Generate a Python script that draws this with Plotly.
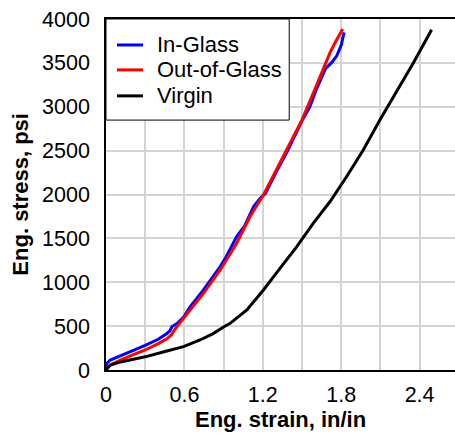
import plotly.graph_objects as go

# Engineering stress-strain curves (strain in in/in, stress in psi)
in_glass_strain = [0.0, 0.005, 0.033, 0.11, 0.21, 0.30, 0.40, 0.466, 0.49, 0.505, 0.543,
                   0.593, 0.645, 0.746, 0.874, 0.92, 1.0, 1.06, 1.13, 1.18, 1.22, 1.30,
                   1.384, 1.45, 1.50, 1.56, 1.613, 1.68, 1.728, 1.766, 1.80, 1.822]
in_glass_stress = [0, 76, 114, 160, 225, 280, 350, 415, 450, 495, 528,
                   600, 722, 912, 1178, 1290, 1520, 1640, 1863, 1958, 2010, 2250,
                   2480, 2680, 2840, 3000, 3210, 3435, 3505, 3580, 3700, 3847]

out_glass_strain = [0.0, 0.015, 0.033, 0.11, 0.21, 0.30, 0.40, 0.466, 0.50, 0.53, 0.593,
                    0.645, 0.746, 0.874, 1.0, 1.103, 1.205, 1.256, 1.307, 1.384, 1.50,
                    1.613, 1.715, 1.76, 1.812]
out_glass_stress = [0, 35, 57, 114, 175, 228, 300, 355, 400, 470, 590,
                    684, 874, 1140, 1445, 1749, 1996, 2142, 2288, 2509, 2851,
                    3250, 3620, 3750, 3886]

virgin_strain = [0.0, 0.034, 0.11, 0.30, 0.466, 0.593, 0.72, 0.82, 0.90, 0.95, 1.078,
                 1.205, 1.333, 1.46, 1.587, 1.715, 1.842, 1.97, 2.097, 2.225, 2.352, 2.492]
virgin_stress = [0, 57, 92, 150, 217, 266, 342, 415, 490, 532, 684,
                 912, 1160, 1406, 1673, 1920, 2205, 2509, 2851, 3174, 3498, 3878]

series = [
    ("In-Glass", in_glass_strain, in_glass_stress, "#0000ff"),
    ("Out-of-Glass", out_glass_strain, out_glass_stress, "#ff0000"),
    ("Virgin", virgin_strain, virgin_stress, "#000000"),
]

font_family = "Arial, Liberation Sans, sans-serif"
grid_color = "#d4d4d4"

fig = go.Figure()
for name, xs, ys, color in series:
    fig.add_trace(go.Scatter(x=xs, y=ys, name=name, mode="lines",
                             line=dict(color=color, width=3), showlegend=False))

# Boxed legend in the upper-left corner of the plotting area
legend_box = dict(x0=0, x1=0.525, y0=0.712, y1=1.0)
legend_rows = [0.926, 0.855, 0.781]
sample_x = (0.0315, 0.106)
label_x = 0.1404

fig.add_shape(type="rect", xref="paper", yref="paper", layer="above",
              line=dict(color="black", width=1), fillcolor="white", **legend_box)
for (name, _, _, color), row_y in zip(series, legend_rows):
    fig.add_shape(type="line", xref="paper", yref="paper", layer="above",
                  x0=sample_x[0], x1=sample_x[1], y0=row_y, y1=row_y,
                  line=dict(color=color, width=3))
    fig.add_annotation(xref="paper", yref="paper", x=label_x, y=row_y,
                       xanchor="left", yanchor="middle", showarrow=False,
                       text=name, font=dict(size=22, color="black"))

# Axis titles
fig.add_annotation(xref="paper", yref="paper", x=0.5, y=-0.142,
                   xanchor="center", yanchor="middle", showarrow=False,
                   text="<b>Eng. strain, in/in</b>", font=dict(size=22, color="black"))
fig.add_annotation(xref="paper", yref="paper", x=-0.246, y=0.5,
                   xanchor="center", yanchor="middle", showarrow=False, textangle=-90,
                   text="<b>Eng. stress, psi</b>", font=dict(size=22, color="black"))

fig.update_layout(
    width=455, height=438,
    margin=dict(l=106, r=0, t=19, b=68),
    paper_bgcolor="white", plot_bgcolor="white",
    font=dict(family=font_family, color="black", size=21.5),
    showlegend=False,
)

fig.update_xaxes(
    range=[0, 2.671], dtick=0.6, tick0=0,
    showgrid=True, gridcolor=grid_color, gridwidth=1.5,
    minor=dict(dtick=0.3, showgrid=True, gridcolor=grid_color, gridwidth=1.5),
    showline=True, linecolor="black", linewidth=1.5, mirror=True,
    zeroline=False, ticks="", ticklabelstandoff=4,
)
fig.update_yaxes(
    range=[0, 4000], dtick=500,
    showgrid=True, gridcolor=grid_color, gridwidth=1.5,
    showline=True, linecolor="black", linewidth=1.5, mirror=False,
    zeroline=False, ticks="", ticklabelstandoff=10,
)

fig.write_html("out.html")
